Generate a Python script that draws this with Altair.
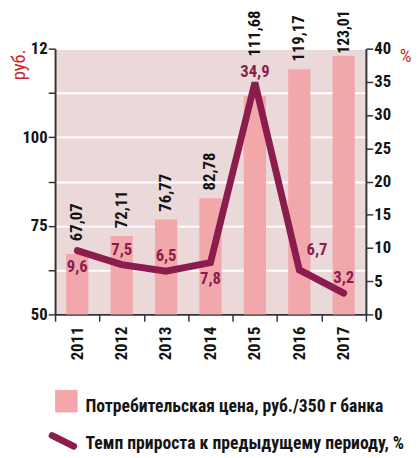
import altair as alt
import pandas as pd

years = ["2011", "2012", "2013", "2014", "2015", "2016", "2017"]
price = [67.07, 72.11, 76.77, 82.78, 111.68, 119.17, 123.01]
growth = [9.6, 7.5, 6.5, 7.8, 34.9, 6.7, 3.2]
price_labels = ["67,07", "72,11", "76,77", "82,78", "111,68", "119,17", "123,01"]
growth_labels = ["9,6", "7,5", "6,5", "7,8", "34,9", "6,7", "3,2"]
left_ticks = [50, 62.5, 75, 87.5, 100, 112.5, 125]
right_ticks = [0, 5, 10, 15, 20, 25, 30, 35, 40]
legend_bar_text = ["Потребительская цена, руб./350 г банка"]
legend_line_text = ["Темп прироста к предыдущему периоду, %"]

df = pd.DataFrame({
    "year": years,
    "price": price,
    "growth": growth,
    "plabel": price_labels,
    "glabel": growth_labels,
})

FONT = "Roboto Condensed"
BAR = "#f2a7aa"
LINE = "#8a1d4e"
RED = "#cc1f2d"
INK = "#141414"
AXC = "#333333"
FS = 17

W, H = 317, 271

x_enc = alt.X(
    "year:N",
    sort=years,
    scale=alt.Scale(paddingInner=0, paddingOuter=0),
    axis=alt.Axis(
        title=None, labelAngle=270, labelAlign="right", labelBaseline="middle",
        tickBand="extent", tickSize=7, tickColor=AXC, tickWidth=1.5,
        domainColor=AXC, domainWidth=2, labelPadding=5,
        labelFont=FONT, labelFontSize=FS, labelFontWeight="bold", labelColor=INK,
        grid=False,
    ),
)

y_price = alt.Y(
    "price:Q",
    scale=alt.Scale(domain=[50, 125], nice=False, zero=False),
    axis=alt.Axis(
        values=left_ticks, orient="left",
        labelExpr="datum.value == 125 ? '12' : (datum.value % 25 == 0 ? datum.label : '')",
        grid=True, gridColor="white", gridWidth=2,
        tickSize=7, tickColor=AXC, tickWidth=1.5, domainColor=AXC, domainWidth=2,
        labelPadding=1, labelFont=FONT, labelFontSize=FS, labelFontWeight="bold",
        labelColor=INK,
        title="руб.", titleColor=RED, titleFont=FONT, titleFontSize=19,
        titleFontWeight="normal", titleAngle=270, titleAlign="center",
        titleBaseline="middle", titleX=-37, titleY=16,
    ),
)

y_growth = alt.Y(
    "growth:Q",
    scale=alt.Scale(domain=[0, 40], nice=False),
    axis=alt.Axis(
        values=right_ticks, orient="right", grid=False,
        tickSize=7, tickColor=AXC, tickWidth=1.5, domainColor=AXC, domainWidth=2,
        labelPadding=1, labelFont=FONT, labelFontSize=FS, labelFontWeight="bold",
        labelColor=INK,
        title="%", titleColor=RED, titleFont=FONT, titleFontSize=19,
        titleFontWeight="normal", titleAngle=0, titleAlign="center",
        titleBaseline="middle", titleX=40, titleY=7,
    ),
)

base = alt.Chart(df)

bars = base.mark_bar(color=BAR, width=alt.RelativeBandSize(0.5)).encode(
    x=x_enc, y=y_price, y2=alt.datum(50)
)


def price_text(years_sel, dx, fs=FS):
    return base.transform_filter(
        alt.FieldOneOfPredicate(field="year", oneOf=years_sel)
    ).mark_text(
        angle=270, align="left", baseline="middle", dx=dx,
        font=FONT, fontSize=fs, fontWeight="bold", color=INK,
    ).encode(x=x_enc, y=y_price, text="plabel:N")


ptxt_a = price_text(["2012", "2013", "2014", "2016"], 8)
ptxt_b = price_text(["2011"], 13)
ptxt_c = price_text(["2015"], 40)
ptxt_d = price_text(["2017"], 2, 16)

bar_group = alt.layer(bars, ptxt_a, ptxt_b, ptxt_c, ptxt_d)

line = base.mark_line(
    color=LINE, strokeWidth=7, strokeCap="round", strokeJoin="miter"
).encode(x=x_enc, y=y_growth)


def growth_text(years_sel, dx, dy):
    return base.transform_filter(
        alt.FieldOneOfPredicate(field="year", oneOf=years_sel)
    ).mark_text(
        align="center", baseline="middle", dx=dx, dy=dy,
        font=FONT, fontSize=FS, fontWeight="bold", color=LINE,
    ).encode(x=x_enc, y=y_growth, text="glabel:N")


gtxt_below = growth_text(["2011", "2014"], 0, 17)
gtxt_above = growth_text(["2012", "2013", "2017"], 0, -15)
gtxt_peak = growth_text(["2015"], 0, -11)
gtxt_2016 = growth_text(["2016"], 18, -20)

leg_sq = alt.Chart(pd.DataFrame({"t": legend_bar_text})).mark_square(
    color=BAR, size=23 * 23, opacity=1
).encode(x=alt.value(11.5), y=alt.value(359.5))

leg_t1 = alt.Chart(pd.DataFrame({"t": legend_bar_text})).mark_text(
    align="left", baseline="alphabetic", font=FONT, fontSize=18,
    fontWeight="bold", color=INK,
).encode(x=alt.value(31), y=alt.value(370.5), text="t:N")

leg_ln = alt.Chart(pd.DataFrame({"t": legend_line_text})).mark_rule(
    color=LINE, strokeWidth=7, strokeCap="round"
).encode(x=alt.value(-3), x2=alt.value(19), y=alt.value(394.5), y2=alt.value(405.5))

leg_t2 = alt.Chart(pd.DataFrame({"t": legend_line_text})).mark_text(
    align="left", baseline="alphabetic", font=FONT, fontSize=18,
    fontWeight="bold", color=INK,
).encode(x=alt.value(31), y=alt.value(408.5), text="t:N")

line_group = alt.layer(line, gtxt_below, gtxt_above, gtxt_peak, gtxt_2016,
                       leg_sq, leg_t1, leg_ln, leg_t2)

chart = alt.layer(bar_group, line_group).resolve_scale(y="independent").properties(
    width=W, height=H,
    autosize=alt.AutoSizeParams(type="none"),
    padding={"left": 48, "top": 37, "right": 47, "bottom": 142},
).configure_view(fill="#ebd9d9", stroke="transparent")

chart.save("out.html", embed_options={"renderer": "svg", "actions": False})
